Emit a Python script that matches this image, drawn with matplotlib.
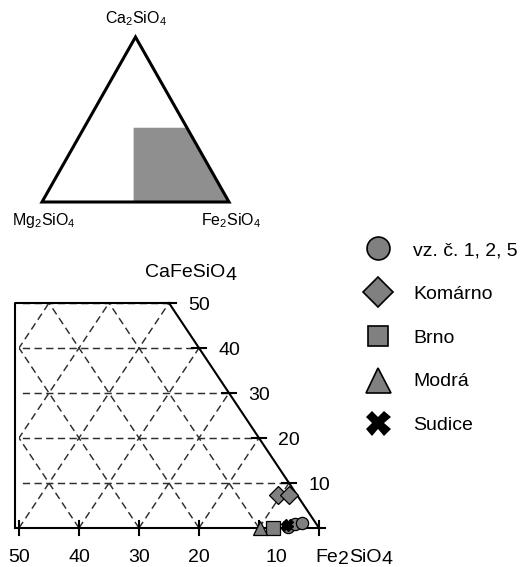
import numpy as np
import matplotlib
matplotlib.use('Agg')
import matplotlib.pyplot as plt
from matplotlib.patches import Polygon

plt.rcParams['font.family'] = ['Liberation Sans', 'DejaVu Sans']
plt.rcParams['mathtext.default'] = 'regular'

# compositions in % Mg2SiO4 and % CaFeSiO4 (Fe2SiO4 is the rest)
vz_mg = [5.0, 3.6, 2.2]
vz_ca = [0.3, 0.8, 1.2]
komarno_mg = [3.2, 1.3]
komarno_ca = [7.3, 7.3]
brno_mg = [7.6]
brno_ca = [0.0]
modra_mg = [9.8]
modra_ca = [0.0]
sudice_mg = [5.3, 4.6]
sudice_ca = [0.5, 1.0]

base_ticks = [50, 40, 30, 20, 10, 0]
edge_ticks = [10, 20, 30, 40, 50]
grid_levels = [10, 20, 30, 40, 50, 60, 70, 80, 90]

# window of the lower diagram and the shaded field in the overview
zoom_mg_max = 50
zoom_ca_max = 50
shade_mg_max = 51
shade_ca_max = 45

GRAY = '#808080'


def tern(mg, ca):
    # Fe2SiO4 apex at x=100, Mg2SiO4 at x=0, Ca2SiO4 on top
    mg = np.asarray(mg, dtype=float)
    ca = np.asarray(ca, dtype=float)
    return 100 - mg - ca / 2, ca


def chem(ax, parts, xy, offset, size):
    # pieces of a formula, digits pushed a bit down (full size)
    t = ax.annotate(parts[0][0], xy=xy, xytext=offset, textcoords='offset pixels',
                    ha='left', va='baseline', fontsize=size)
    prev = parts[0][1]
    for s, low in parts[1:]:
        t = ax.annotate(s, xy=(1, 0), xycoords=t, xytext=(0, low - prev),
                        textcoords='offset pixels', ha='left', va='bottom', fontsize=size)
        prev = low
    return t


fig = plt.figure(figsize=(5.25, 5.67), dpi=100)
W, H = 525, 567

# ---------------- overview triangle ----------------
top = fig.add_axes([4.6 / W, (H - 235) / H, 261.8 / W, 214.5 / H])
top.set_xlim(-20, 120)
top.set_ylim(-20, 110)
top.axis('off')

corners = np.column_stack(tern([100, 0, 0], [0, 0, 100]))
sx, sy = tern([shade_mg_max, 0, 0, shade_mg_max - shade_ca_max / 2],
              [0, 0, shade_ca_max, shade_ca_max])
top.add_patch(Polygon(np.column_stack([sx, sy]), closed=True, fc='#8f8f8f', ec='none', zorder=1))
top.add_patch(Polygon(corners, closed=True, fill=False, ec='black', lw=2.2,
                      joinstyle='miter', zorder=2))

top.annotate('Ca$_2$SiO$_4$', xy=corners[2], xytext=(0, 14), textcoords='offset pixels',
             ha='center', va='baseline', fontsize=11.5)
top.annotate('Mg$_2$SiO$_4$', xy=corners[0], xytext=(2, -23), textcoords='offset pixels',
             ha='center', va='baseline', fontsize=11.5)
top.annotate('Fe$_2$SiO$_4$', xy=corners[1], xytext=(2, -23), textcoords='offset pixels',
             ha='center', va='baseline', fontsize=11.5)

# ---------------- detail diagram ----------------
ax = fig.add_axes([4 / W, (H - 564) / H, 345 / W, 306 / H])
ax.set_xlim(47.5, 105)
ax.set_ylim(-8, 60)
ax.axis('off')

cx, cy = tern([zoom_mg_max, 0, 0, zoom_mg_max - zoom_ca_max / 2],
              [0, 0, zoom_ca_max, zoom_ca_max])
clip = Polygon(np.column_stack([cx, cy]), closed=True, transform=ax.transData,
               fc='none', ec='none')
ax.add_patch(clip)

grid_kw = dict(color='#2e2e2e', lw=1.05, dashes=(5, 3), zorder=1)
for lv in grid_levels:
    # constant CaFeSiO4
    ln, = ax.plot(*tern([100, -100], [lv, lv]), **grid_kw)
    ln.set_clip_path(clip)
    # constant Mg2SiO4
    ln, = ax.plot(*tern([lv, lv], [0, 100]), **grid_kw)
    ln.set_clip_path(clip)
    # constant Fe2SiO4
    ln, = ax.plot(*tern([100 - lv, -lv], [0, 100]), **grid_kw)
    ln.set_clip_path(clip)

# outline
left_x = 100 - zoom_mg_max - 0.7
tx, ty = tern([0, 0], [0, zoom_ca_max])
ax.plot([left_x, left_x, tx[1]], [0, zoom_ca_max, zoom_ca_max], color='black', lw=1.5, zorder=2)
ax.plot(tx, ty, color='black', lw=1.5, zorder=2)
ax.plot([left_x, 101], [0, 0], color='black', lw=1.5, zorder=2)

# ticks and labels
for b in base_ticks:
    x, _ = tern(b, 0)
    ax.plot([x, x], [-1.5, 1.5], color='black', lw=1.5, zorder=2)
    if b > 0:
        dx = 17 if b == 10 else 0
        ax.annotate(str(b), xy=(x, 0), xytext=(dx, -34), textcoords='offset pixels',
                    ha='center', va='baseline', fontsize=14)
for c in edge_ticks:
    x, y = tern(0, c)
    ax.plot([x - 1.1, x + 1.1], [y, y], color='black', lw=1.5, zorder=2)
    ax.annotate(str(c), xy=(x, y), xytext=(30, -7), textcoords='offset pixels',
                ha='center', va='baseline', fontsize=14)

chem(ax, [('Fe', 0), ('2', -2.5), ('SiO', 0), ('4', -2.5)], tern(0, 0), (-4, -34), 14)
chem(ax, [('CaFeSiO', 0), ('4', -3)], tern(0, zoom_ca_max), (-24, 26), 14)

# samples
mk = dict(linestyle='none', mec='black', mew=0.9, zorder=3)
ax.plot(*tern(vz_mg, vz_ca), marker='o', mfc=GRAY, ms=8.8, label='vz. č. 1, 2, 5', **mk)
ax.plot(*tern(komarno_mg, komarno_ca), marker='D', mfc=GRAY, ms=9.3, label='Komárno', **mk)
ax.plot(*tern(brno_mg, brno_ca), marker='s', mfc=GRAY, ms=9.4, label='Brno', **mk)
ax.plot(*tern(modra_mg, modra_ca), marker='^', mfc=GRAY, ms=10.5, label='Modrá', **mk)
ax.plot(*tern(sudice_mg, sudice_ca), marker='X', color='black', ms=7,
        label='Sudice', linestyle='none', zorder=4)

leg = fig.legend(loc='upper left', bbox_to_anchor=(363.5 / W, 1 - 241.5 / H),
                 bbox_transform=fig.transFigure, frameon=False, fontsize=14,
                 borderpad=0, borderaxespad=0, handlelength=1.5, handletextpad=1.05,
                 labelspacing=1.345, numpoints=1)
for h, s, ew in zip(leg.legend_handles, [16.5, 15.3, 14.4, 18, 18], [1.2, 1.2, 1.2, 1.2, 0]):
    h.set_markersize(s)
    h.set_markeredgewidth(ew)

fig.savefig('out.png', dpi=100)
